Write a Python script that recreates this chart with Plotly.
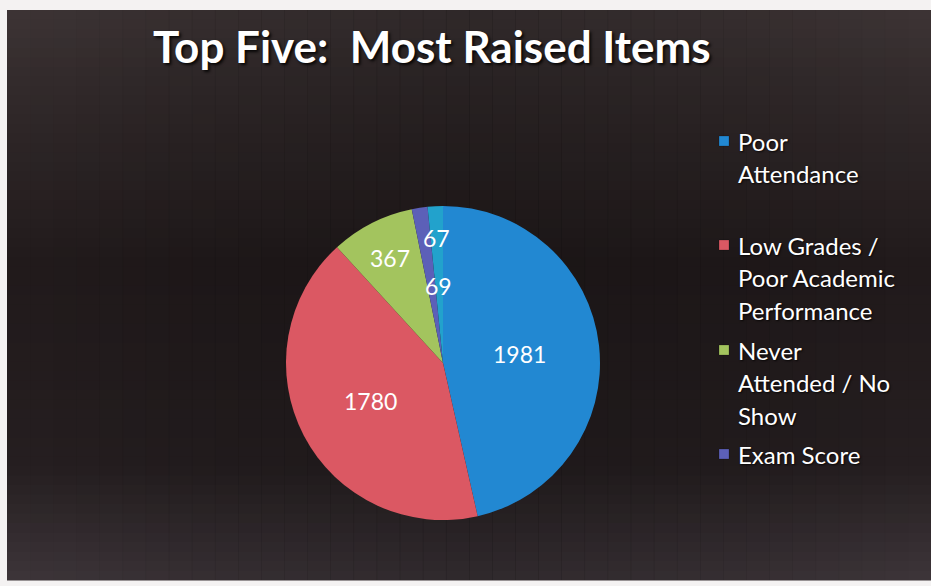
import math
import plotly.graph_objects as go

# ---- data -------------------------------------------------------------
categories = [
    "Poor\nAttendance",
    "Low Grades /\nPoor Academic\nPerformance",
    "Never\nAttended / No\nShow",
    "Exam Score",
    "Other",
]
counts = [1981, 1780, 367, 69, 67]
legend_items = categories[:4]          # entries listed in the key
title_text = "Top Five:  Most Raised Items"

# ---- styling ----------------------------------------------------------
W, H = 931, 586
slice_colors = ["#2288d2", "#db5863", "#a3c45e", "#5c60b8", "#22a2cc"]
label_radius = [0.49, 0.52, 0.75, 0.49, 0.80]   # radial placement of value labels
label_nudge = [0, 0, 0, 5, 0]                   # angular tweak (deg) for crowded labels
FONT = "Lato"


def px(x):
    return x / W


def py(y):
    return 1 - y / H


def lerp_color(stops, t):
    for (t0, c0), (t1, c1) in zip(stops, stops[1:]):
        if t0 <= t <= t1:
            f = (t - t0) / (t1 - t0) if t1 > t0 else 0
            return tuple(round(a + (b - a) * f) for a, b in zip(c0, c1))
    return stops[-1][1]


shapes = []

# slide backdrop: vertical gradient in horizontal bands
left, right, top, bottom = 7, 931, 10, 580
vstops = [(0.0, (62, 53, 54)), (0.15, (50, 42, 43)), (0.45, (34, 27, 28)),
          (0.8, (38, 31, 33)), (1.0, (62, 54, 58))]
nb = 60
for i in range(nb):
    y0 = top + (bottom - top) * i / nb
    y1 = top + (bottom - top) * (i + 1) / nb + 0.6
    c = lerp_color(vstops, (i + 0.5) / nb)
    shapes.append(dict(type="rect", xref="paper", yref="paper", layer="below",
                       x0=px(left), x1=px(right), y0=py(y1), y1=py(y0),
                       fillcolor="rgb(%d,%d,%d)" % c, line_width=0))

# darker centre across the width
hstops = [(0.0, 0.0), (0.2, 0.12), (0.5, 0.22), (0.8, 0.12), (1.0, 0.0)]
nh = 40
for i in range(nh):
    x0 = left + (right - left) * i / nh
    x1 = left + (right - left) * (i + 1) / nh + 0.6
    t = (i + 0.5) / nh
    a = 0
    for (t0, a0), (t1, a1) in zip(hstops, hstops[1:]):
        if t0 <= t <= t1:
            a = a0 + (a1 - a0) * (t - t0) / (t1 - t0)
    shapes.append(dict(type="rect", xref="paper", yref="paper", layer="below",
                       x0=px(x0), x1=px(x1), y0=py(bottom), y1=py(top),
                       fillcolor="rgba(0,0,0,%.3f)" % a, line_width=0))

# ---- pie --------------------------------------------------------------
cx, cy, R = 443, 363, 157
fig = go.Figure(go.Pie(
    labels=categories,
    values=counts,
    sort=False,
    direction="clockwise",
    rotation=0,
    marker=dict(colors=slice_colors, line=dict(width=0)),
    textinfo="none",
    hoverinfo="label+value",
    showlegend=False,
    domain=dict(x=[px(cx - R), px(cx + R)], y=[py(cy + R), py(cy - R)]),
))

annotations = []

# value labels placed along each slice's mid-angle
total = sum(counts)
start = 0.0
for v, rf, nudge in zip(counts, label_radius, label_nudge):
    span = 360.0 * v / total
    mid = math.radians(start + span / 2 + nudge)
    lx = cx + rf * R * math.sin(mid)
    ly = cy - rf * R * math.cos(mid)
    annotations.append(dict(x=px(lx), y=py(ly), xref="paper", yref="paper",
                            text=str(v), showarrow=False,
                            xanchor="center", yanchor="middle",
                            font=dict(family=FONT, size=23, color="white")))
    start += span

# title
annotations.append(dict(x=px(151), y=py(46), xref="paper", yref="paper",
                        text="<b>%s</b>" % title_text, showarrow=False,
                        xanchor="left", yanchor="middle",
                        font=dict(family=FONT, size=44, color="white",
                                  shadow="2px 2px 3px rgba(0,0,0,0.85)")))

# key: wrapped entries with small colour squares
line_gap = 32.5
item_tops = [141, 245, 350, 454]
for label, color, ytop in zip(legend_items, slice_colors, item_tops):
    for j, line in enumerate(label.split("\n")):
        annotations.append(dict(x=px(736), y=py(ytop + j * line_gap),
                                xref="paper", yref="paper", text=line,
                                showarrow=False, xanchor="left", yanchor="middle",
                                font=dict(family=FONT, size=24, color="white",
                                          shadow="1px 1px 2px rgba(0,0,0,0.8)")))
    shapes.append(dict(type="rect", xref="paper", yref="paper",
                       x0=px(719), x1=px(729), y0=py(ytop + 5), y1=py(ytop - 5),
                       fillcolor=color, line=dict(color="rgba(0,0,0,0.4)", width=0.5)))

fig.update_layout(
    width=W, height=H,
    margin=dict(l=0, r=0, t=0, b=0),
    paper_bgcolor="#f4f2f2",
    plot_bgcolor="rgba(0,0,0,0)",
    shapes=shapes,
    annotations=annotations,
)

fig.write_html("out.html")
